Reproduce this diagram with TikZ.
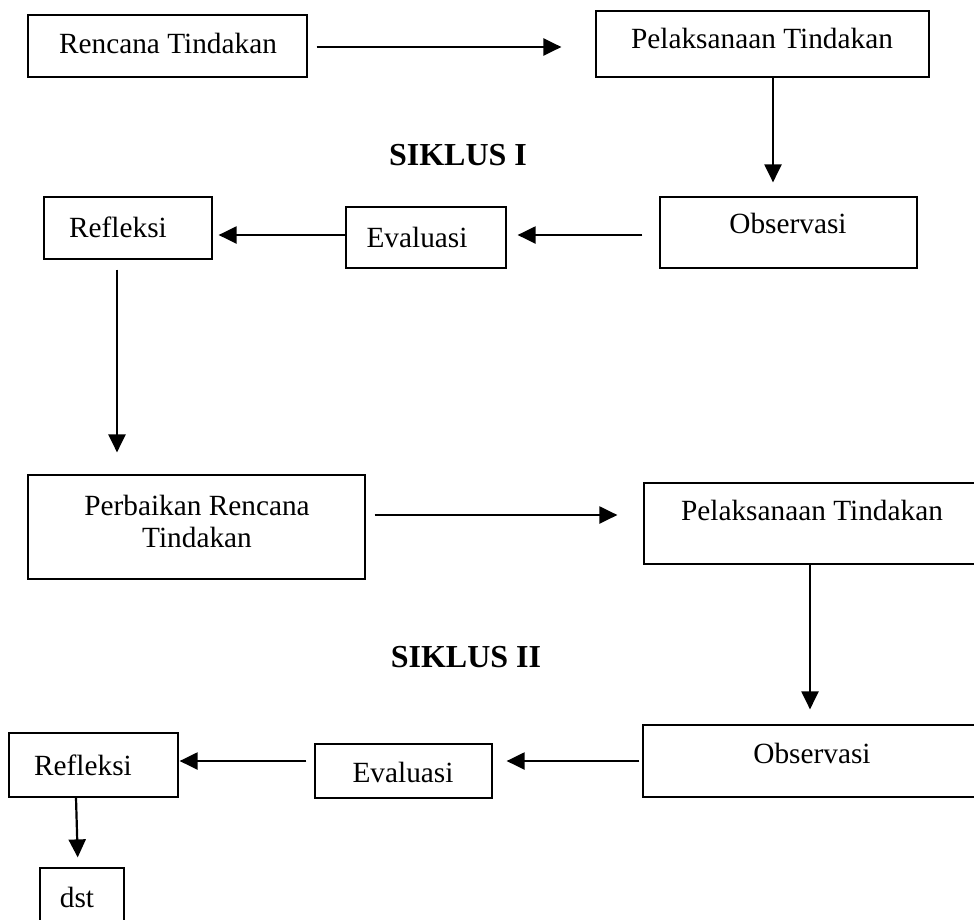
\documentclass[tikz,border=0pt]{standalone}
\usepackage{fontspec}
\setmainfont{Liberation Serif}
\usetikzlibrary{arrows.meta}
\tikzset{
  box/.style n args={2}{draw, line width=1.2pt, inner sep=0pt, minimum width=#1pt, minimum height=#2pt},
  txt/.style={inner sep=0pt, font=\fontsize{29.3}{32}\selectfont},
  ttl/.style={inner sep=0pt, font=\fontsize{32}{34}\selectfont\bfseries},
  arr/.style={line width=2.2pt, -{Triangle[length=18pt,width=17pt]}},
  ln/.style={line width=2.2pt}
}
\begin{document}
\begin{tikzpicture}[x=1pt,y=-1pt]
\useasboundingbox (0,0) rectangle (974,919);
% boxes
\node[box={279}{62}] (rt) at (167.5,46) {};
\node[box={333}{66}] (pt) at (762.5,44) {};
\node[box={257}{71}] (ob) at (788.5,232.5) {};
\node[box={160}{61}] (ev) at (426,237.5) {};
\node[box={168}{62}] (rf) at (128,228) {};
\node[box={337}{104}] (pr) at (196.5,527) {};
\node[box={346}{81}] (pt2) at (817,523.5) {};
\node[box={347}{72}] (ob2) at (816.5,761) {};
\node[box={177}{54}] (ev2) at (403.5,771) {};
\node[box={169}{64}] (rf2) at (93.5,765) {};
\node[box={84}{72}] (dst) at (82,904) {};
% texts
\node[txt] (trt) at (168,43) {Rencana Tindakan};
\node[txt] (tpt) at (762,38) {Pelaksanaan Tindakan};
\node[txt] (tob) at (788,223) {Observasi};
\node[txt] (tev) at (417,237) {Evaluasi};
\node[txt] (trf) at (118,227) {Refleksi};
\node[txt, align=center] (tpr) at (197,521) {Perbaikan Rencana\\Tindakan};
\node[txt] (tpt2) at (812,510) {Pelaksanaan Tindakan};
\node[txt] (tob2) at (812,753) {Observasi};
\node[txt] (tev2) at (403,772) {Evaluasi};
\node[txt] (trf2) at (83,765) {Refleksi};
\node[txt] (tdst) at (77,897) {dst};
\node[ttl] (s1) at (458,155) {SIKLUS I};
\node[ttl] (s2) at (466,657) {SIKLUS II};
% connectors
\draw[arr, shorten <=9pt, shorten >=34pt] ([yshift=-1pt]rt.east) -- ([yshift=-1pt]rt.east -| pt.west);
\draw[arr, shorten >=14pt] ([xshift=10.5pt]pt.south) -- ([xshift=10.5pt]pt.south |- ob.north);
\draw[arr, shorten <=17pt, shorten >=11pt] ([yshift=-2.5pt]ob.west) -- ([yshift=-2.5pt]ob.west -| ev.east);
\draw[arr, shorten >=6pt] ([yshift=2.5pt]ev.west) -- ([yshift=2.5pt]ev.west -| rf.east);
\draw[arr, shorten <=10pt, shorten >=22pt] ([xshift=-11pt]rf.south) -- ([xshift=-11pt]rf.south |- pr.north);
\draw[arr, shorten <=9pt, shorten >=26pt] ([yshift=12pt]pr.east) -- ([yshift=12pt]pr.east -| pt2.west);
\draw[arr, shorten >=15pt] ([xshift=-7pt]pt2.south) -- ([xshift=-7pt]pt2.south |- ob2.north);
\draw[arr, shorten <=3pt, shorten >=14pt] (ob2.west) -- (ob2.west -| ev2.east);
\draw[arr, shorten <=8pt, shorten >=1pt] ([yshift=10pt]ev2.west) -- ([yshift=10pt]ev2.west -| rf2.east);
\draw[arr, shorten >=10pt] ([xshift=-17.5pt]rf2.south) -- ([xshift=-4pt]dst.north);
\end{tikzpicture}
\end{document}
